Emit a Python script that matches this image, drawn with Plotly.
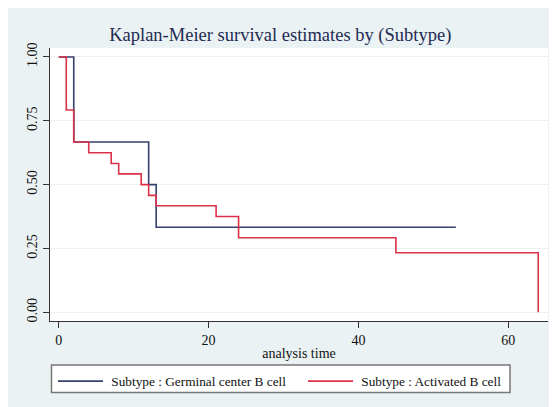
import plotly.graph_objects as go

# Germinal center B cell
gcb_time = [0, 2, 12, 13, 53]
gcb_surv = [1.0, 0.667, 0.5, 0.333, 0.333]
# Activated B cell
abc_time = [0, 1, 2, 4, 7, 8, 11, 12, 13, 21, 24, 45, 64]
abc_surv = [1.0, 0.792, 0.667, 0.625, 0.583, 0.542, 0.5, 0.458, 0.417, 0.375, 0.292, 0.233, 0.0]

x_ticks = [0, 20, 40, 60]
y_ticks = [0, 0.25, 0.5, 0.75, 1.0]
y_tick_text = ["0.00", "0.25", "0.50", "0.75", "1.00"]

BG = "#EAF2F3"
BLUE = "#34406e"
RED = "#dc3049"
FONT = "Liberation Serif"

fig = go.Figure()
fig.add_trace(go.Scatter(x=gcb_time, y=gcb_surv, mode="lines", line_shape="hv",
                         line=dict(color=BLUE, width=1.6),
                         name="\u00a0Subtype : Germinal center B cell"))
fig.add_trace(go.Scatter(x=abc_time, y=abc_surv, mode="lines", line_shape="hv",
                         line=dict(color=RED, width=1.6),
                         name="\u00a0Subtype : Activated B cell"))

OFF = 8  # page body margin
W, H = 557, 407
# plot area in screen pixels
SL, SR, ST, SB = 49.5, 548, 47.7, 321
L, R, T, B = SL - OFF, W - (SR - OFF), ST - OFF, H - (SB - OFF)
pw, ph = W - L - R, H - T - B

def px_x(p):
    return (p - OFF - L) / pw

def px_y(p):
    return (H - B - (p - OFF)) / ph

fig.update_layout(
    width=W, height=H,
    margin=dict(l=L, r=R, t=T, b=B, autoexpand=False),
    paper_bgcolor=BG, plot_bgcolor="white",
    font=dict(family=FONT, color="#111111", size=14),
    title=dict(text="Kaplan-Meier survival estimates by (Subtype)",
               xref="paper", x=px_x(280), xanchor="center",
               y=1 - (35 - OFF) / H, yanchor="middle",
               automargin=False,
               font=dict(family=FONT, size=18.5, color="#1e2b52")),
    xaxis=dict(range=[-1.17, 65.3], tickvals=x_ticks, showgrid=False, zeroline=False,
               showline=True, linecolor="#333333", linewidth=1, automargin=False,
               ticks="outside", ticklen=6, tickcolor="#333333",
               tickfont=dict(family=FONT, size=14, color="#111111"),
               title=dict(text="analysis time", standoff=1,
                          font=dict(family=FONT, size=14, color="#111111"))),
    yaxis=dict(range=[-0.034, 1.035], tickvals=y_ticks, ticktext=y_tick_text,
               tickangle=-90, showgrid=True, gridcolor=BG, gridwidth=1, zeroline=False,
               showline=True, linecolor="#333333", linewidth=1, automargin=False,
               ticks="outside", ticklen=6, tickcolor="#333333",
               tickfont=dict(family=FONT, size=14, color="#111111")),
    legend=dict(orientation="h", x=px_x(52.5), xanchor="left", y=px_y(366), yanchor="top",
                bgcolor="rgba(0,0,0,0)", borderwidth=0,
                itemwidth=45, entrywidth=190, entrywidthmode="pixels",
                font=dict(family=FONT, size=13.3, color="#111111")),
    showlegend=True,
    shapes=[
        dict(type="rect", xref="paper", yref="paper",
             x0=px_x(51), x1=px_x(510), y0=px_y(392.5), y1=px_y(365),
             fillcolor="white", line=dict(color="#777777", width=1.5), layer="below"),
    ],
)

fig.write_html("out.html")
